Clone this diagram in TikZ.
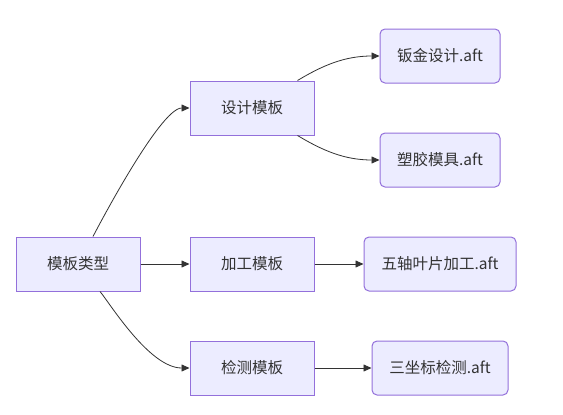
\documentclass[tikz,border=0pt]{standalone}
\usepackage{fontspec}
\setmainfont{Noto Sans CJK SC}
\usetikzlibrary{arrows.meta}
\definecolor{boxfill}{HTML}{ECECFF}
\definecolor{boxline}{HTML}{9370DB}
\definecolor{linkcol}{HTML}{333333}
\tikzset{
	tplbox/.style={draw=boxline,fill=boxfill,line width=1pt,minimum width=124pt,minimum height=54pt,inner sep=0pt,font=\fontsize{15.5}{18}\selectfont,text=linkcol},
	filebox/.style={tplbox,rounded corners=5pt},
	link/.style={draw=linkcol,line width=0.8pt,-{Triangle[length=8pt,width=7pt]}}
}
\begin{document}
\begin{tikzpicture}[x=1pt,y=-1pt]
		\useasboundingbox (0,0) rectangle (563,415);
		%root
		\node[tplbox] (type) at (78,264) {模板类型};
		%templates
		\node[tplbox] (design) at (252,108) {设计模板};
		\node[tplbox] (machining) at (252,264) {加工模板};
		\node[tplbox] (inspect) at (252,368) {检测模板};
		%files
		\node[filebox,minimum width=120pt] (sheet) at (440,56) {钣金设计.aft};
		\node[filebox,minimum width=120pt] (mould) at (440,160) {塑胶模具.aft};
		\node[filebox,minimum width=152pt] (blade) at (440,264) {五轴叶片加工.aft};
		\node[filebox,minimum width=136pt] (cmm) at (440,368) {三坐标检测.aft};
		%links
		\draw[link] ([xshift=15pt]type.north) .. controls +(0,0) and +(-30,0) .. (design.west);
		\draw[link] (type.east) -- (machining.west);
		\draw[link] ([xshift=22pt]type.south) .. controls +(10,12) and +(-40,0) .. (inspect.west);
		\draw[link] ([xshift=-17pt]design.north east) .. controls +(25,-15) and +(-35,0) .. (sheet.west);
		\draw[link] ([xshift=-17pt]design.south east) .. controls +(25,15) and +(-35,0) .. (mould.west);
		\draw[link] (machining.east) -- (blade.west);
		\draw[link] (inspect.east) -- (cmm.west);
	\end{tikzpicture}
\end{document}
